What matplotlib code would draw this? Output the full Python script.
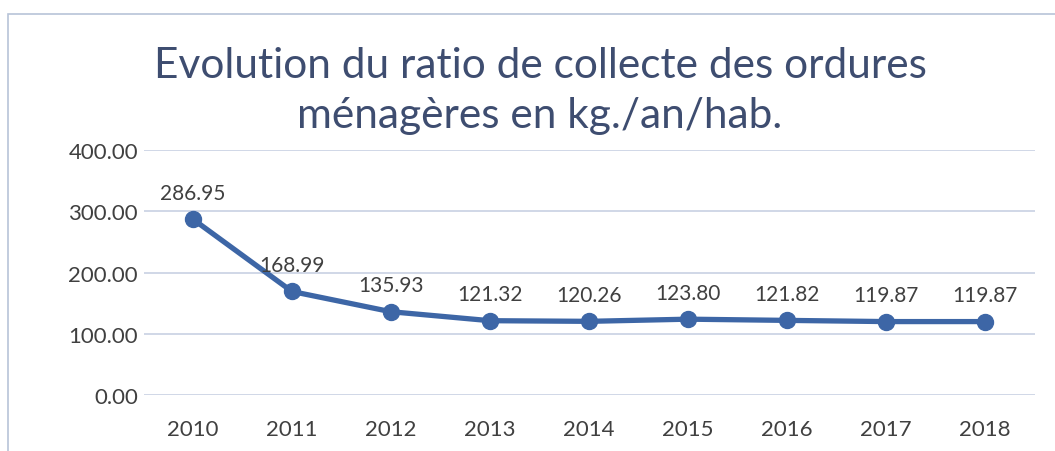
import matplotlib.pyplot as plt
from matplotlib.patches import Rectangle

years = ['2010', '2011', '2012', '2013', '2014', '2015', '2016', '2017', '2018']
ratio = [286.95, 168.99, 135.93, 121.32, 120.26, 123.80, 121.82, 119.87, 119.87]
yticks = [0, 100, 200, 300, 400]

plt.rcParams['font.family'] = ['Lato', 'DejaVu Sans']

W, H = 1055, 452
fig = plt.figure(figsize=(W / 100, H / 100), dpi=100)
ax = fig.add_axes([143.5 / W, 56 / H, 891 / W, 245 / H])

# chart border (scan shows only top and left edges)
fig.patches.append(Rectangle((8 / W, -0.1), 1.2, (H - 15) / H + 0.1,
                             transform=fig.transFigure, fill=False,
                             edgecolor='#b8c4d8', linewidth=1.2))

x = list(range(len(years)))
ax.plot(x, ratio, color='#3d66a6', linewidth=3.8, marker='o',
        markersize=11.5, solid_capstyle='round', zorder=3)

for xi, v in zip(x, ratio):
    ax.annotate(f'{v:.2f}', (xi, v), xytext=(0, 12), textcoords='offset points',
                ha='center', va='bottom', fontsize=15, color='#404040')

ax.set_xlim(-0.5, len(years) - 0.5)
ax.set_ylim(0, 400)
ax.set_yticks(yticks)
ax.set_yticklabels([f'{t:.2f}' for t in yticks])
ax.set_xticks(x)
ax.set_xticklabels(years)
ax.tick_params(length=0, labelsize=16, labelcolor='#404040')
ax.tick_params(axis='y', pad=4)
ax.tick_params(axis='x', pad=17)
ax.grid(axis='y', color='#c3cde0', linewidth=1.1)
ax.set_axisbelow(True)
for s in ax.spines.values():
    s.set_visible(False)

fig.text(540 / W, 1 - 66 / H, 'Evolution du ratio de collecte des ordures',
         ha='center', va='center', fontsize=30.5, color='#3e4d70')
fig.text(540 / W, 1 - 116 / H, 'ménagères en kg./an/hab.',
         ha='center', va='center', fontsize=30.5, color='#3e4d70')

fig.savefig('out.png', dpi=100)
